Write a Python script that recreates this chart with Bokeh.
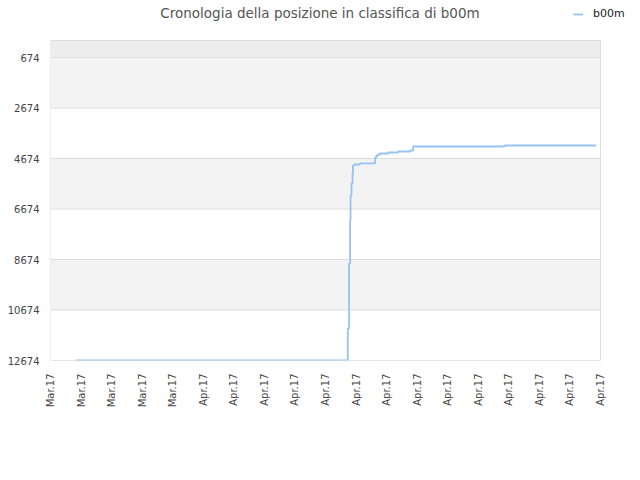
import math
import pandas as pd
from bokeh.plotting import figure
from bokeh.models import (Range1d, FixedTicker, DatetimeTickFormatter, Legend, LegendItem, Label)
from bokeh.embed import file_html
from bokeh.resources import INLINE

# ---- data ----
series_name = "b00m"
times = [
    "2017-03-24 15:00", "2017-04-11 11:00", "2017-04-11 13:00", "2017-04-11 14:40",
    "2017-04-11 15:20", "2017-04-11 16:50", "2017-04-11 18:30", "2017-04-11 19:10",
    "2017-04-11 21:00", "2017-04-12 06:00", "2017-04-13 06:00", "2017-04-13 08:00",
    "2017-04-13 10:30", "2017-04-13 13:40", "2017-04-14 02:30", "2017-04-14 18:00",
    "2017-04-15 13:00", "2017-04-15 17:45", "2017-04-21 17:00", "2017-04-27 17:15",
]
ranks = [
    12674, 11406, 8832, 7129,
    6139, 5664, 5268, 4951,
    4911, 4870, 4634, 4555,
    4515, 4476, 4436, 4396,
    4357, 4198, 4159, 4159,
]
y_ticks = [674, 2674, 4674, 6674, 8674, 10674, 12674]
band_bottoms = [0, 674, 4674, 8674]
band_tops = [674, 2674, 6674, 10674]
band_colors = ["#ededed", "#f3f3f3", "#f3f3f3", "#f3f3f3"]
y_min, y_max = 0, 12674
x_start = "2017-03-23"
x_end = "2017-04-28"
tick_dates = pd.date_range("2017-03-23", "2017-04-28", freq="2D")
title_text = "Cronologia della posizione in classifica di b00m"

# ---- layout constants (pixels) ----
W, H = 632, 472
AREA_L, AREA_R, AREA_T, AREA_B = 50, 600, 40, 360   # visible plot area
FRAME_R = W                                          # frame extends right/up so that
FRAME_T = 0                                          # title + legend are not clipped
TITLE_CX, TITLE_CY = 319.5, 12
LEGEND_L, LEGEND_B = 573, 20

FONT = "DejaVu Sans"
LINE_COLOR = "#95c3f3"

xs = pd.to_datetime(times)
x0 = pd.Timestamp(x_start)
x1 = pd.Timestamp(x_end)
ms0, ms1 = x0.value / 1e6, x1.value / 1e6
ms_per_px = (ms1 - ms0) / (AREA_R - AREA_L)
u_per_px = (y_max - y_min) / (AREA_B - AREA_T)

x_range = Range1d(ms0, ms1 + (FRAME_R - AREA_R) * ms_per_px)
y_range = Range1d(y_max, y_min - (AREA_T - FRAME_T) * u_per_px)

p = figure(width=W, height=H, x_axis_type="datetime", x_range=x_range, y_range=y_range,
           output_backend="svg", toolbar_location=None,
           min_border_left=AREA_L, min_border_right=W - FRAME_R,
           min_border_top=FRAME_T, min_border_bottom=H - AREA_B)
p.background_fill_color = "white"
p.border_fill_color = "white"
p.outline_line_color = None
p.xgrid.grid_line_color = None
p.ygrid.grid_line_color = None

# bands
p.quad(left=[x0] * len(band_bottoms), right=[x1] * len(band_bottoms),
       bottom=band_bottoms, top=band_tops, fill_color=band_colors, line_color=None)
# horizontal grid lines at the ticks
p.segment(x0=[x0] * len(y_ticks), x1=[x1] * len(y_ticks), y0=y_ticks, y1=y_ticks,
          line_color="#dedede", line_width=1)
# plot-area border
p.quad(left=[x0], right=[x1], bottom=[y_max], top=[y_min],
       fill_color=None, line_color="#dddddd", line_width=1)

r = p.step(xs, ranks, mode="after", line_color=LINE_COLOR, line_width=1.8)

# axes
p.yaxis.ticker = FixedTicker(ticks=y_ticks)
p.xaxis.ticker = FixedTicker(ticks=[t.value // 10**6 for t in tick_dates])
fmt = "%b.%y"
p.xaxis.formatter = DatetimeTickFormatter(microseconds=fmt, milliseconds=fmt, seconds=fmt,
                                          minsec=fmt, minutes=fmt, hourmin=fmt, hours=fmt,
                                          days=fmt, months=fmt, years=fmt)
p.xaxis.major_label_orientation = math.pi / 2
for ax in (p.xaxis[0], p.yaxis[0]):
    ax.axis_line_color = None
    ax.major_tick_line_color = None
    ax.minor_tick_line_color = None
    ax.major_tick_out = 0
    ax.major_tick_in = 0
    ax.major_label_text_font = FONT
    ax.major_label_text_font_size = "10px"
    ax.major_label_text_color = "#444444"
p.yaxis.major_label_standoff = 11
p.xaxis.major_label_standoff = 13

# title
p.add_layout(Label(x=ms0 + (TITLE_CX - AREA_L) * ms_per_px,
                   y=y_min - (AREA_T - TITLE_CY) * u_per_px,
                   text=title_text, text_align="center", text_baseline="middle",
                   text_font=FONT, text_font_size="13.5px", text_color="#555555"))

# legend (top right, above the plot area)
legend = Legend(items=[LegendItem(label=series_name, renderers=[r])],
                location=(LEGEND_L - AREA_L, AREA_B - LEGEND_B),
                orientation="horizontal", background_fill_alpha=0, border_line_color=None,
                label_text_font=FONT, label_text_font_size="11px", label_text_color="#222222",
                glyph_width=10, glyph_height=10, padding=2, spacing=0, margin=0,
                label_standoff=10)
p.add_layout(legend, "center")

open("out.html", "w").write(file_html(p, INLINE))
